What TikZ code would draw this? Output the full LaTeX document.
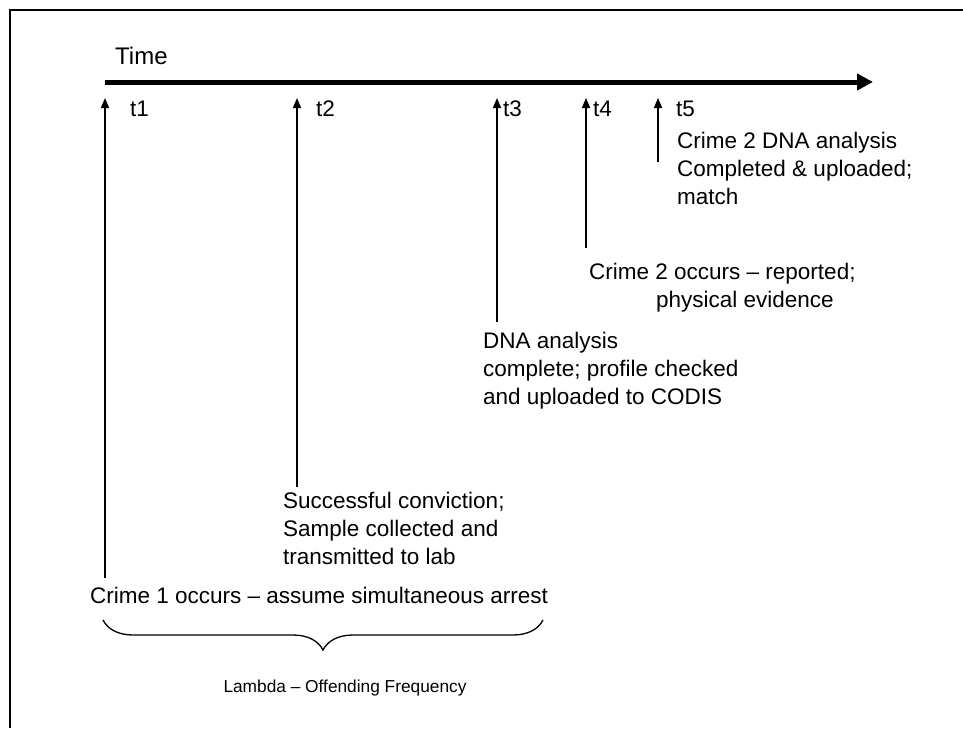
\documentclass[tikz,border=0pt]{standalone}
\usepackage{fontspec}
\setmainfont{Liberation Sans}
\usetikzlibrary{arrows.meta,decorations.pathreplacing}
\begin{document}
\begin{tikzpicture}[x=1pt,y=-1pt,
  lbl/.style={font=\fontsize{22.5}{28}\selectfont, inner sep=0pt, anchor=north west, align=left},
  tlbl/.style={font=\fontsize{22.5}{28}\selectfont, inner sep=0pt, anchor=west},
  tick/.style={line width=1.5pt, -{Triangle[length=10pt,width=8pt]}},
  frame/.style={line width=2.4pt},
  axis/.style={line width=5pt, -{Triangle[length=16pt,width=16pt]}},
  bracestyle/.style={line width=1.3pt, decorate, decoration={brace, amplitude=30pt}}
]
\useasboundingbox (0,0) rectangle (963,728);
\fill[white] (0,0) rectangle (963,728);
% frame (top and left only)
\coordinate (fr0) at (963,10);
\coordinate (fr1) at (10,10);
\coordinate (fr2) at (10,728);
\draw[frame] (fr0) -- (fr1) -- (fr2);

% time axis
\node[lbl, font=\fontsize{24}{28}\selectfont] (time) at (115,47) {Time};
\coordinate (ax0) at (105,82);
\coordinate (ax1) at (873,82);
\draw[axis] (ax0) -- (ax1);

% tick labels
\node[tlbl] (t1) at (130,109) {t1};
\node[tlbl] (t2) at (316,109) {t2};
\node[tlbl] (t3) at (503,109) {t3};
\node[tlbl] (t4) at (593,109) {t4};
\node[tlbl] (t5) at (676,109) {t5};

% event texts
\node[lbl] (c5) at (677,132) {Crime 2 DNA analysis\\Completed \& uploaded;\\match};
\node[lbl] (c4) at (589,263) {Crime 2 occurs – reported;\\\hspace*{67pt}physical evidence};
\node[lbl] (c3) at (483,332) {DNA analysis\\complete; profile checked\\and uploaded to CODIS};
\node[lbl] (c2) at (283,492) {Successful conviction;\\Sample collected and\\transmitted to lab};
\node[lbl] (c1) at (90,587) {Crime 1 occurs – assume simultaneous arrest};

% tick arrows
\coordinate (a1) at (105,98);  \coordinate (b1) at (105,578);
\coordinate (a2) at (297,98);  \coordinate (b2) at (297,487);
\coordinate (a3) at (497,98);  \coordinate (b3) at (497,322);
\coordinate (a4) at (586,98);  \coordinate (b4) at (586,248);
\coordinate (a5) at (658,98);  \coordinate (b5) at (658,162);
\draw[tick] (b1) -- (a1);
\draw[tick] (b2) -- (a2);
\draw[tick] (b3) -- (a3);
\draw[tick] (b4) -- (a4);
\draw[tick] (b5) -- (a5);

% brace
\coordinate (br0) at (543,620);
\coordinate (br1) at (103,620);
\draw[bracestyle] (br0) -- (br1);
\node[font=\fontsize{17.3}{20}\selectfont, inner sep=0pt, anchor=north] (lam) at (345,680) {Lambda – Offending Frequency};
\end{tikzpicture}
\end{document}
